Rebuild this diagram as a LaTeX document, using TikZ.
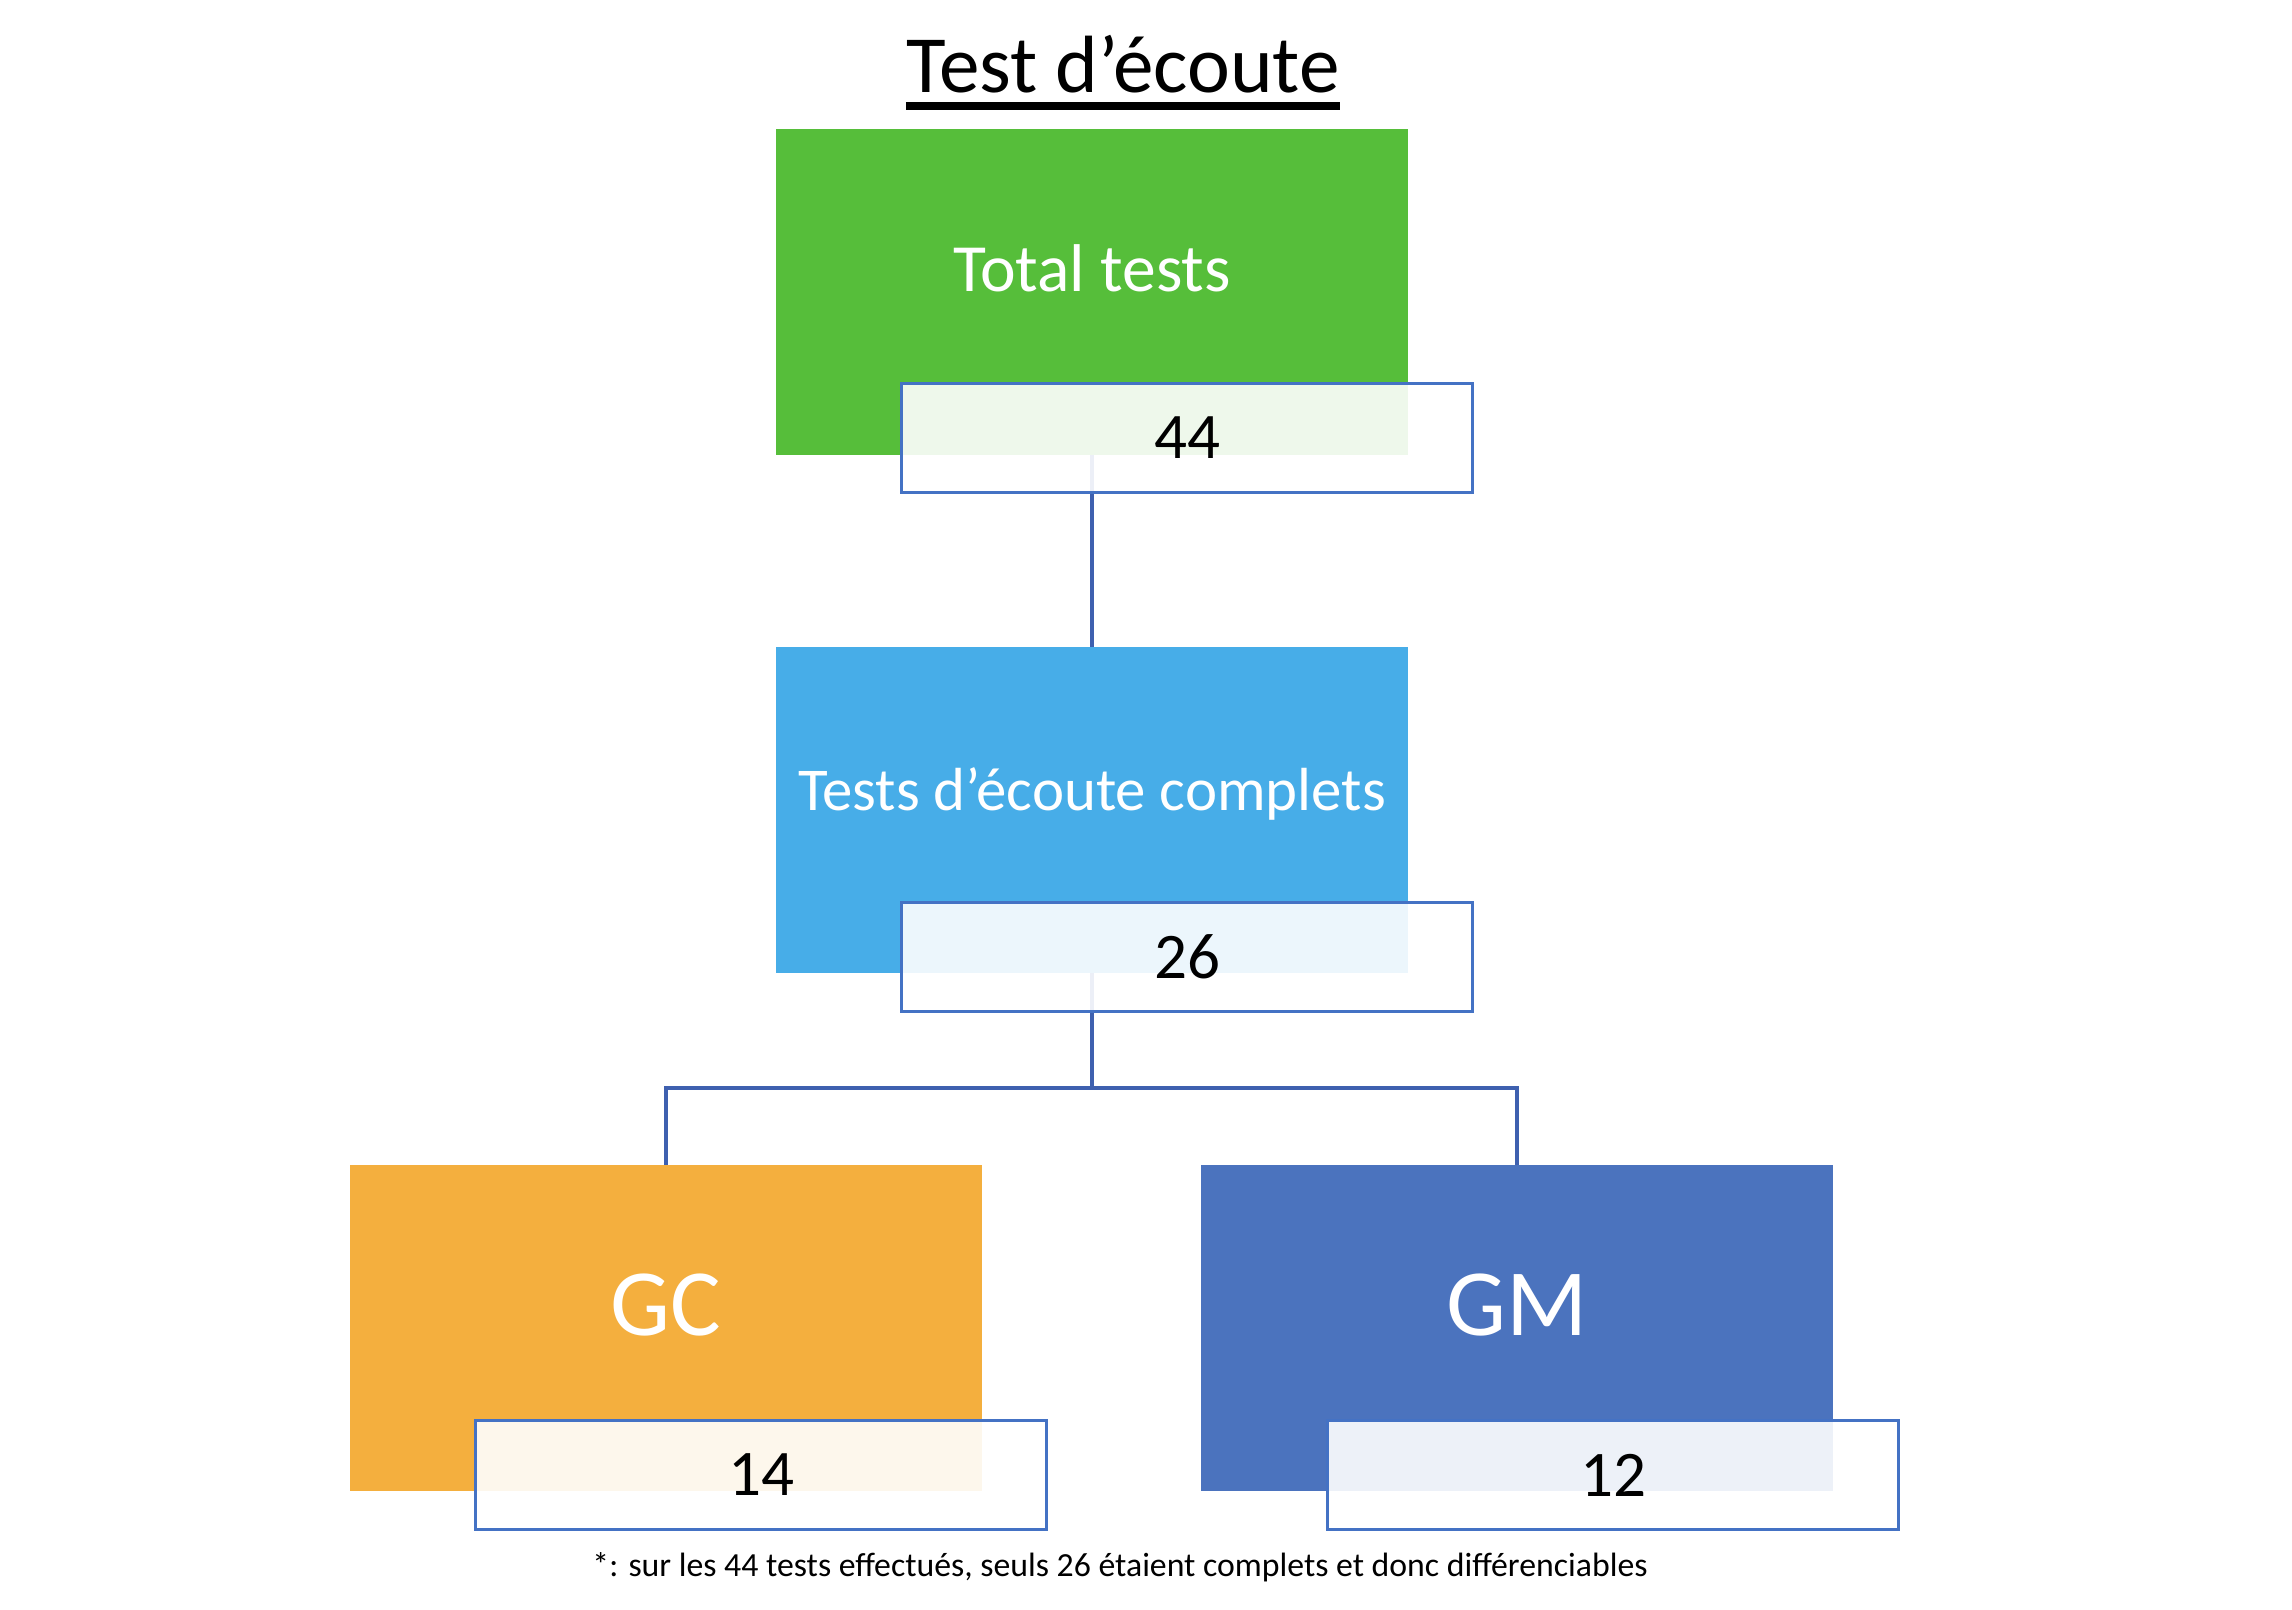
\documentclass[tikz,border=0pt]{standalone}
\usepackage{fontspec}
\setmainfont{Carlito}
\usepackage{tikz}

\definecolor{totalgreen}{RGB}{86,190,58}
\definecolor{completblue}{RGB}{71,173,232}
\definecolor{gcorange}{RGB}{244,175,62}
\definecolor{gmblue}{RGB}{75,115,190}
\definecolor{edgeblue}{RGB}{68,114,196}
\definecolor{linkblue}{RGB}{62,96,175}

\begin{document}
\begin{tikzpicture}[
  x=0.01cm,y=-0.01cm,
  catbox/.style={minimum width=6.32cm,minimum height=3.25cm,inner sep=0pt,outer sep=0pt,text=white,text height=0.45cm,text depth=0.45cm,font=\fontsize{19.2}{23}\selectfont},
  groupbox/.style={catbox,text depth=0.3cm,font=\fontsize{27}{31}\selectfont},
  countbox/.style={draw=edgeblue,line width=1pt,fill=white,fill opacity=0.9,text opacity=1,minimum width=5.71cm,minimum height=1.09cm,inner sep=0pt,font=\fontsize{18.5}{22}\selectfont},
  link/.style={draw=linkblue,line width=0.9pt}
]
\useasboundingbox (0,0) rectangle (2292,1610);
% titre
\node[anchor=base,inner sep=0pt,font=\fontsize{23.1}{27}\selectfont] (title) at (1123,93) {Test d’écoute};
\draw[line width=2.2pt] ([yshift=-0.13cm]title.base west) -- ([yshift=-0.13cm]title.base east);
% categories
\node[catbox,fill=totalgreen] (total) at (1092,292) {Total tests};
\node[catbox,fill=completblue,font=\fontsize{17.3}{21}\selectfont] (complets) at (1092,810) {Tests d’écoute complets};
\node[groupbox,fill=gcorange] (gc) at (666,1328) {GC};
\node[groupbox,fill=gmblue] (gm) at (1517,1328) {GM};
% liens
\coordinate (branch) at (1092,1088);
\draw[link] (total.south) -- (complets.north);
\draw[link] (complets.south) -- (branch) -| (gc.north);
\draw[link] (branch) -| (gm.north);
% effectifs
\node[countbox] (n44) at (1187,438) {44};
\node[countbox] (n26) at (1187,957) {26};
\node[countbox] (n14) at (761,1475) {14};
\node[countbox] (n12) at (1613,1475) {12};
% note
\node[anchor=base,inner sep=0pt,font=\fontsize{9.6}{11}\selectfont] (note) at (1120,1576) {*: sur les 44 tests effectués, seuls 26 étaient complets et donc différenciables};
\end{tikzpicture}
\end{document}
